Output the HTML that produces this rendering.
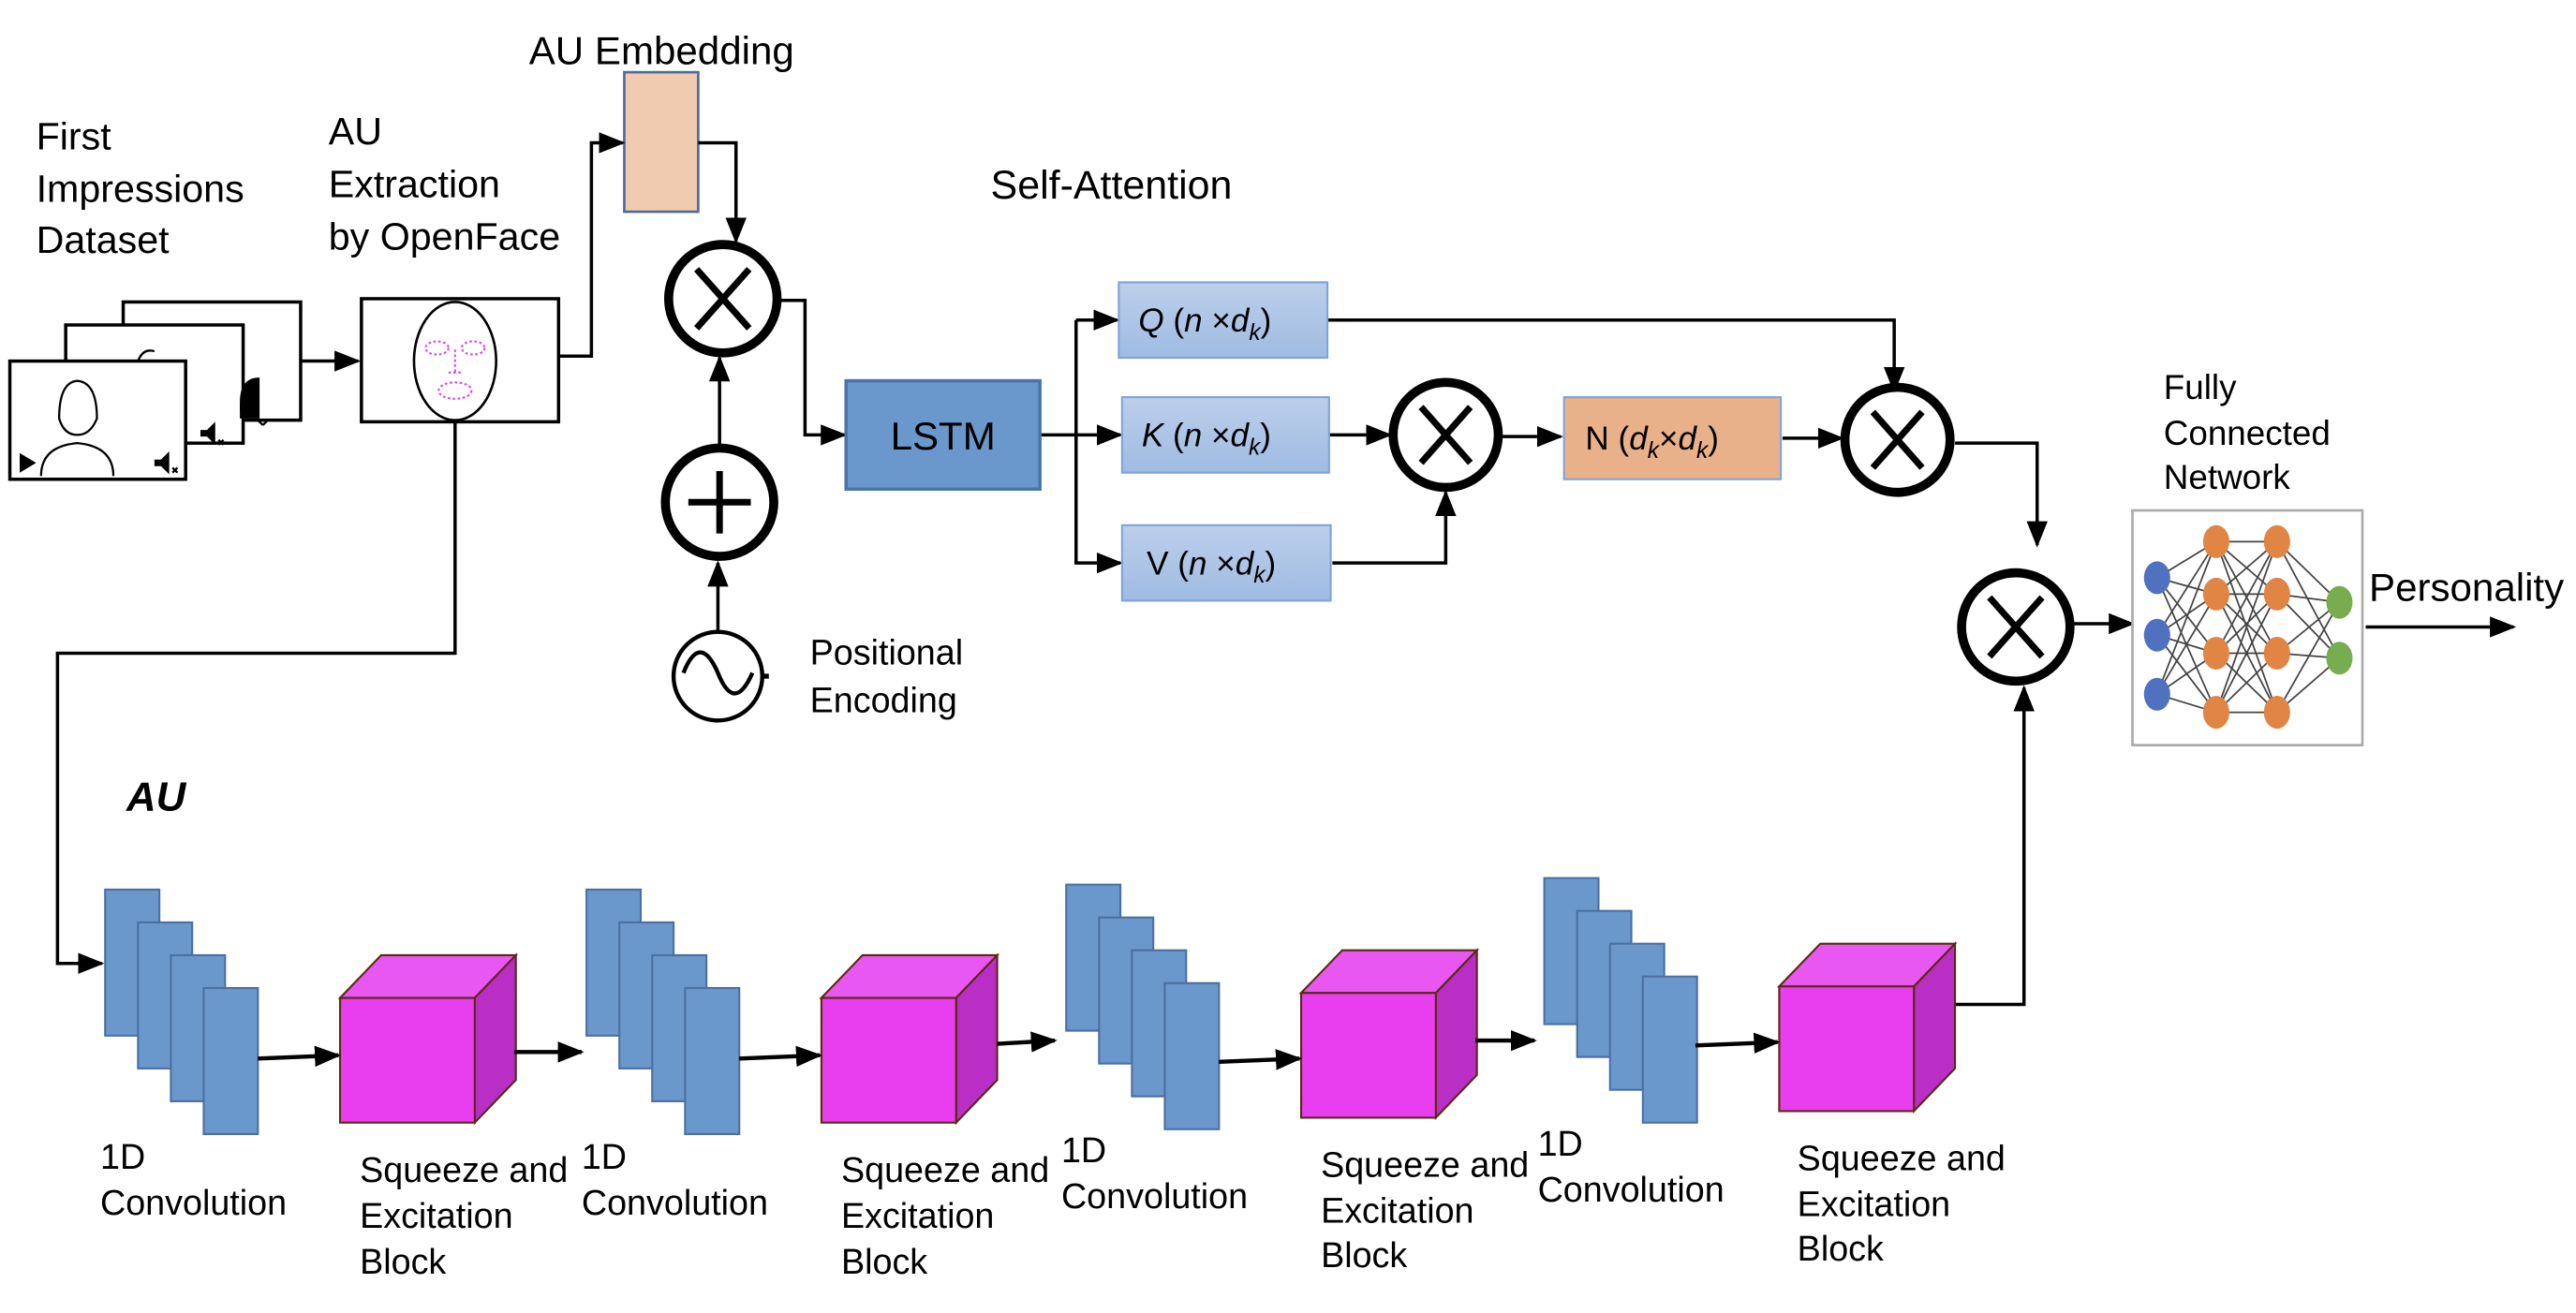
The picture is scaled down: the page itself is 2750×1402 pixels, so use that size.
<!DOCTYPE html>
<html><head><meta charset="utf-8"><style>
html,body{margin:0;padding:0;background:#fff;}
svg{display:block;}
text{font-family:"Liberation Sans",sans-serif;fill:#000;}
</style></head><body>
<svg width="2750" height="1402" viewBox="0 0 1568 800" preserveAspectRatio="none" xmlns="http://www.w3.org/2000/svg">
<defs>
<marker id="b" viewBox="0 0 10 10" refX="9" refY="5" markerWidth="16" markerHeight="16" orient="auto" markerUnits="userSpaceOnUse">
<path d="M0,1 L10,5 L0,9 z" fill="#000"/></marker>
<linearGradient id="g" x1="0" y1="0" x2="0" y2="1"><stop offset="0" stop-color="#bccfea"/><stop offset="1" stop-color="#9fbbe2"/></linearGradient>
</defs>
<g font-size="23.5">
<text x="22" y="91">First</text><text x="22" y="123">Impressions</text><text x="22" y="154">Dataset</text>
<text x="200" y="88">AU</text><text x="200" y="120">Extraction</text><text x="200" y="152">by OpenFace</text>
<text x="322" y="39" font-size="24">AU Embedding</text>
<text x="603" y="121" font-size="24.5">Self-Attention</text>
<text x="493" y="405" font-size="21.5">Positional</text><text x="493" y="434" font-size="21.5">Encoding</text>
<text x="1317" y="243" font-size="21">Fully</text><text x="1317" y="271" font-size="21">Connected</text><text x="1317" y="298" font-size="21">Network</text>
<text x="1442" y="366" font-size="24">Personality</text>
</g>
<text x="77" y="494" font-family="Liberation Serif,serif" font-style="italic" font-weight="bold" font-size="25">AU</text>

<!-- video frames -->
<g stroke="#000" stroke-width="2" fill="#fff">
<rect x="75" y="184" width="108" height="72"/>
<rect x="40" y="198" width="108" height="72"/>
<rect x="6" y="220" width="107" height="72"/>
</g>
<path d="M146,245 q0,-15 12,-15 l0,25 h-12z" fill="#000"/>
<g fill="#000"><path d="M146,246 h4 l5,-5 v14 l-5,-5 h-4z"/><path d="M122,262 h4 l5,-5 v14 l-5,-5 h-4z"/><path d="M94,280 h4 l5,-5 v14 l-5,-5 h-4z"/>
<path d="M12,276 l10,6 l-10,6z"/></g>
<g stroke="#000" stroke-width="1.3" fill="none">
<path d="M25,290 q0,-18 22,-20 q22,2 22,20"/><path d="M36,255 q0,-22 11,-23 q12,1 12,23 q-4,10 -12,10 q-8,0 -11,-10z"/>
<path d="M84,220 q3,-8 10,-6"/><path d="M157,256 l3,3 m3,-3 l-3,3 M133,268 l3,3 m0,-3 l-3,3 M105,285 l3,3 m0,-3 l-3,3"/>
</g>
<!-- openface -->
<rect x="220" y="182" width="120" height="75" fill="#fff" stroke="#000" stroke-width="2"/>
<ellipse cx="277" cy="220" rx="25" ry="36" fill="none" stroke="#000" stroke-width="1.5"/>
<g fill="none" stroke="#e040f0" stroke-width="1.2" stroke-dasharray="1.5 1.5">
<ellipse cx="266" cy="212" rx="7" ry="4"/><ellipse cx="288" cy="212" rx="7" ry="4"/>
<path d="M277,213 v14 m-4,0 h8"/><ellipse cx="277" cy="238" rx="10" ry="5"/></g>

<!-- embedding -->
<rect x="380" y="44" width="45" height="85" fill="#f0cbb0" stroke="#4a6a9a" stroke-width="1.5"/>

<!-- connectors top -->
<g stroke="#000" stroke-width="2" fill="none" marker-end="url(#b)">
<path d="M183,220 H218"/>
<path d="M340,217 H360 V87 H379"/>
<path d="M425,87 H448 V147"/>
<path d="M438,271 V218"/>
<path d="M437,384 V343"/>
<path d="M475,183 H490 V265 H514"/>
<path d="M655,195 H680"/>
<path d="M633,265 H682"/>
<path d="M655,195 V343 H682"/>
<path d="M808,195 H1153 V238"/>
<path d="M809,265 H846"/>
<path d="M811,343 H880 V300"/>
<path d="M913,266 H950"/>
<path d="M1085,267 H1121"/>
<path d="M1190,270 H1240 V332"/>
<path d="M1262,380 H1298"/>
<path d="M1440,382 H1530"/>
<path d="M277,257 V398 H35 V587 H62"/>
<path d="M1189,612 H1232 V419"/>
</g>

<!-- operators -->
<g stroke="#000" stroke-width="5.5" fill="#fff">
<circle cx="440" cy="182" r="33"/><circle cx="438" cy="306" r="33"/>
<circle cx="880" cy="265" r="32"/><circle cx="1155" cy="268" r="32"/><circle cx="1227" cy="382" r="33"/>
</g>
<g stroke="#000" stroke-width="4">
<path d="M424,164 l32,36 m0,-36 l-32,36"/><path d="M438,287 v38 m-19,-19 h38"/>
<path d="M865,248 l30,34 m0,-34 l-30,34"/><path d="M1140,251 l30,34 m0,-34 l-30,34"/><path d="M1211,364 l32,36 m0,-36 l-32,36"/>
</g>
<circle cx="437" cy="412" r="27" fill="#fff" stroke="#000" stroke-width="2.5"/>
<path d="M416,410 q10,-25 21,0 q10,25 21,0" fill="none" stroke="#000" stroke-width="2.5"/>
<path d="M464,412 h4" stroke="#000" stroke-width="3"/>

<!-- LSTM + QKV -->
<rect x="515" y="232" width="118" height="66" fill="#6b98cc" stroke="#4a74a8" stroke-width="2"/>
<text x="574" y="274" text-anchor="middle" font-size="24">LSTM</text>
<g fill="url(#g)" stroke="#7fa3d9" stroke-width="1.2">
<rect x="681" y="172" width="127" height="46"/><rect x="683" y="242" width="126" height="46"/><rect x="683" y="320" width="127" height="46"/></g>
<g font-family="Liberation Serif,serif" font-size="20">
<text x="693" y="202"><tspan font-style="italic">Q</tspan> (<tspan font-style="italic">n</tspan> ×<tspan font-style="italic">d</tspan><tspan font-style="italic" font-size="14" dy="5">k</tspan><tspan dy="-5">)</tspan></text>
<text x="695" y="272"><tspan font-style="italic">K</tspan> (<tspan font-style="italic">n</tspan> ×<tspan font-style="italic">d</tspan><tspan font-style="italic" font-size="14" dy="5">k</tspan><tspan dy="-5">)</tspan></text>
<text x="698" y="350"><tspan font-family="Liberation Sans,sans-serif">V</tspan> (<tspan font-style="italic">n</tspan> ×<tspan font-style="italic">d</tspan><tspan font-style="italic" font-size="14" dy="5">k</tspan><tspan dy="-5">)</tspan></text>
</g>
<rect x="952" y="242" width="132" height="50" fill="#e8b189" stroke="#7fa3d9" stroke-width="1.2"/>
<text x="965" y="274" font-family="Liberation Serif,serif" font-size="20"><tspan font-family="Liberation Sans,sans-serif">N</tspan> (<tspan font-style="italic">d</tspan><tspan font-style="italic" font-size="14" dy="5">k</tspan><tspan dy="-5">×</tspan><tspan font-style="italic">d</tspan><tspan font-style="italic" font-size="14" dy="5">k</tspan><tspan dy="-5">)</tspan></text>

<!-- NN -->
<rect x="1298" y="311" width="140" height="143" fill="#fff" stroke="#aaa" stroke-width="1.5"/>
<g stroke="#444" stroke-width="1">
<path d="M1313,352 L1349,330 M1313,352 L1349,362 M1313,352 L1349,398 M1313,352 L1349,434 M1313,387 L1349,330 M1313,387 L1349,362 M1313,387 L1349,398 M1313,387 L1349,434 M1313,423 L1349,330 M1313,423 L1349,362 M1313,423 L1349,398 M1313,423 L1349,434"/>
<path d="M1349,330 L1386,330 M1349,330 L1386,362 M1349,330 L1386,398 M1349,330 L1386,434 M1349,362 L1386,330 M1349,362 L1386,362 M1349,362 L1386,398 M1349,362 L1386,434 M1349,398 L1386,330 M1349,398 L1386,362 M1349,398 L1386,398 M1349,398 L1386,434 M1349,434 L1386,330 M1349,434 L1386,362 M1349,434 L1386,398 M1349,434 L1386,434"/>
<path d="M1386,330 L1424,367 M1386,330 L1424,401 M1386,362 L1424,367 M1386,362 L1424,401 M1386,398 L1424,367 M1386,398 L1424,401 M1386,434 L1424,367 M1386,434 L1424,401"/>
</g>
<g fill="#4f71c0"><ellipse cx="1313" cy="352" rx="8" ry="10"/><ellipse cx="1313" cy="387" rx="8" ry="10"/><ellipse cx="1313" cy="423" rx="8" ry="10"/></g>
<g fill="#e08544"><ellipse cx="1349" cy="330" rx="8" ry="10"/><ellipse cx="1349" cy="362" rx="8" ry="10"/><ellipse cx="1349" cy="398" rx="8" ry="10"/><ellipse cx="1349" cy="434" rx="8" ry="10"/>
<ellipse cx="1386" cy="330" rx="8" ry="10"/><ellipse cx="1386" cy="362" rx="8" ry="10"/><ellipse cx="1386" cy="398" rx="8" ry="10"/><ellipse cx="1386" cy="434" rx="8" ry="10"/></g>
<g fill="#77ad4f"><ellipse cx="1424" cy="367" rx="8" ry="10"/><ellipse cx="1424" cy="401" rx="8" ry="10"/></g>

<!-- conv groups -->
<g fill="#6b98cc" stroke="#4a6fa0" stroke-width="1.2">
<rect x="64" y="542" width="33" height="89"/><rect x="84" y="562" width="33" height="89"/><rect x="104" y="582" width="33" height="89"/><rect x="124" y="602" width="33" height="89"/>
<rect x="357" y="542" width="33" height="89"/><rect x="377" y="562" width="33" height="89"/><rect x="397" y="582" width="33" height="89"/><rect x="417" y="602" width="33" height="89"/>
<rect x="649" y="539" width="33" height="89"/><rect x="669" y="559" width="33" height="89"/><rect x="689" y="579" width="33" height="89"/><rect x="709" y="599" width="33" height="89"/>
<rect x="940" y="535" width="33" height="89"/><rect x="960" y="555" width="33" height="89"/><rect x="980" y="575" width="33" height="89"/><rect x="1000" y="595" width="33" height="89"/>
</g>
<!-- cubes -->
<g stroke="#5a2a10" stroke-width="1.2">
<g transform="translate(207,608)"><path d="M0,0 L25,-26 H107 L82,0z" fill="#e957f2"/><path d="M82,0 L107,-26 V50 L82,76z" fill="#b92ec4"/><rect width="82" height="76" fill="#e83ef0"/></g>
<g transform="translate(500,608)"><path d="M0,0 L25,-26 H107 L82,0z" fill="#e957f2"/><path d="M82,0 L107,-26 V50 L82,76z" fill="#b92ec4"/><rect width="82" height="76" fill="#e83ef0"/></g>
<g transform="translate(792,605)"><path d="M0,0 L25,-26 H107 L82,0z" fill="#e957f2"/><path d="M82,0 L107,-26 V50 L82,76z" fill="#b92ec4"/><rect width="82" height="76" fill="#e83ef0"/></g>
<g transform="translate(1083,601)"><path d="M0,0 L25,-26 H107 L82,0z" fill="#e957f2"/><path d="M82,0 L107,-26 V50 L82,76z" fill="#b92ec4"/><rect width="82" height="76" fill="#e83ef0"/></g>
</g>
<g stroke="#000" stroke-width="2.5" marker-end="url(#b)">
<path d="M157,645 L206,643"/><path d="M313,641 H354"/><path d="M450,645 L499,643"/><path d="M607,636 L642,634"/>
<path d="M742,647 L791,645"/><path d="M898,634 H934"/><path d="M1032,637 L1082,635"/>
</g>
<g font-size="21.5">
<text x="61" y="712">1D</text><text x="61" y="740">Convolution</text>
<text x="219" y="720">Squeeze and</text><text x="219" y="748">Excitation</text><text x="219" y="776">Block</text>
<text x="354" y="712">1D</text><text x="354" y="740">Convolution</text>
<text x="512" y="720">Squeeze and</text><text x="512" y="748">Excitation</text><text x="512" y="776">Block</text>
<text x="646" y="708">1D</text><text x="646" y="736">Convolution</text>
<text x="804" y="717">Squeeze and</text><text x="804" y="745">Excitation</text><text x="804" y="772">Block</text>
<text x="936" y="704">1D</text><text x="936" y="732">Convolution</text>
<text x="1094" y="713">Squeeze and</text><text x="1094" y="741">Excitation</text><text x="1094" y="768">Block</text>
</g>
</svg>
</body></html>
